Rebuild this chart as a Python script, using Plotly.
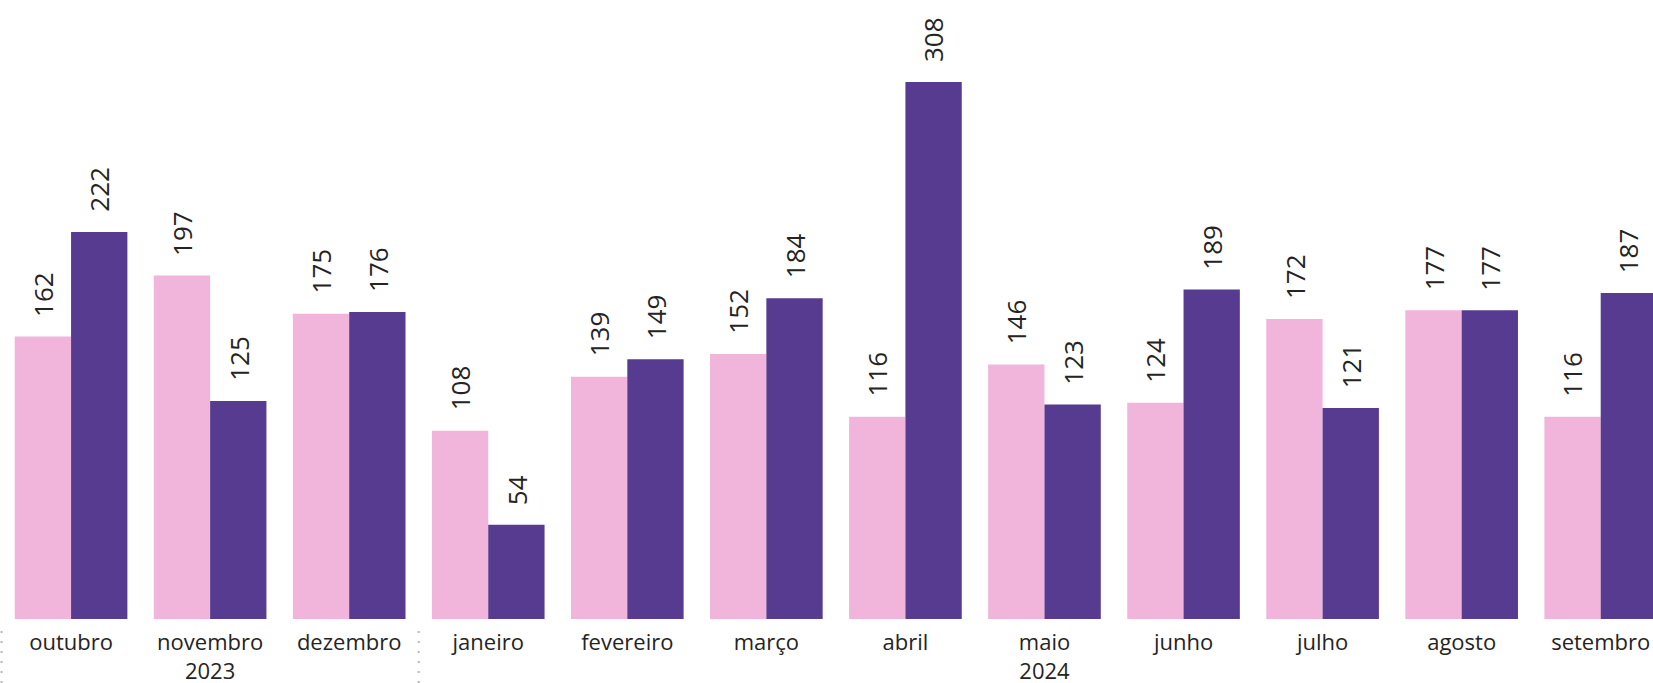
import plotly.graph_objects as go

# ---- data ----
meses = ["outubro", "novembro", "dezembro", "janeiro", "fevereiro", "março",
         "abril", "maio", "junho", "julho", "agosto", "setembro"]
anos = ["2023", "2023", "2023", "2024", "2024", "2024",
        "2024", "2024", "2024", "2024", "2024", "2024"]
serie_rosa = [162, 197, 175, 108, 139, 152, 116, 146, 124, 172, 177, 116]
serie_roxa = [222, 125, 176, 54, 149, 184, 308, 123, 189, 121, 177, 187]

COR_ROSA = "#F1B4DB"
COR_ROXA = "#563B91"
FONTE = "Open Sans, Segoe UI, sans-serif"
TXT = "#252423"

W, H = 1653, 683
MB = 64
BARGAP = 0.19

fig = go.Figure()
fig.add_trace(go.Bar(x=meses, y=serie_rosa, name="Série 1", marker_color=COR_ROSA,
                     marker_line_width=0, showlegend=False, hoverinfo="x+y"))
fig.add_trace(go.Bar(x=meses, y=serie_roxa, name="Série 2", marker_color=COR_ROXA,
                     marker_line_width=0, showlegend=False, hoverinfo="x+y"))

# value labels (rotated) above each bar
off = (1 - BARGAP) / 4
annotations = []
for i, (a, b) in enumerate(zip(serie_rosa, serie_roxa)):
    for xv, val in ((i - off, a), (i + off, b)):
        annotations.append(dict(x=xv, y=val, xref="x", yref="y", text=str(val),
                                textangle=-90, showarrow=False, yanchor="bottom",
                                xanchor="center", yshift=18,
                                font=dict(family=FONTE, size=26, color=TXT)))

# year groups: dotted dividers and year under the middle month of each group
plot_h = H - MB
grupos = []
for i, ano in enumerate(anos):
    if not grupos or grupos[-1][0] != ano:
        grupos.append([ano, i, i])
    else:
        grupos[-1][2] = i
ticktext = list(meses)
shapes = []
for ano, i0, i1 in grupos:
    mid = (i0 + i1) // 2
    ticktext[mid] = meses[mid] + "<br>" + ano
    shapes.append(dict(type="line", xref="x", yref="paper", x0=i0 - 0.5, x1=i0 - 0.5,
                       y0=-(683 - 619) / plot_h, y1=-(625 - 619) / plot_h,
                       line=dict(color="#B8B8B8", width=2, dash="2px,8px")))

fig.update_layout(
    width=W, height=H,
    margin=dict(l=0, r=0, t=0, b=MB),
    barmode="group", bargap=BARGAP, bargroupgap=0,
    plot_bgcolor="white", paper_bgcolor="white",
    annotations=annotations, shapes=shapes,
    xaxis=dict(range=[-0.511, 11.376], showgrid=False, zeroline=False, showline=False,
               ticks="", ticklabelstandoff=8, automargin=False,
               tickmode="array", tickvals=meses, ticktext=ticktext,
               tickfont=dict(family=FONTE, size=22, color=TXT)),
    yaxis=dict(range=[0, 355], visible=False, showgrid=False, zeroline=False),
)

fig.write_html("out.html", config={"displayModeBar": False},
               post_script="document.body.style.margin='0';document.body.style.overflow='hidden';")
